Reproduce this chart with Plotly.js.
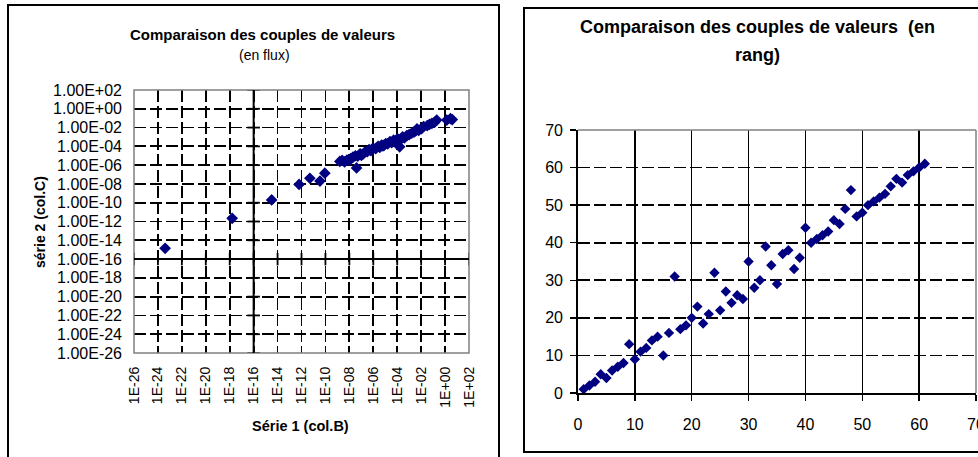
<!DOCTYPE html>
<html>
<head>
<meta charset="utf-8">
<script src="https://cdn.plot.ly/plotly-3.0.1.min.js"></script>
<style>
  html, body { margin: 0; padding: 0; background: #fff; }
  #chart { width: 978px; height: 457px; }
</style>
</head>
<body>
<div id="chart"></div>
<script>
// ---------- DATA ----------
// Left chart: "en flux" (raw values, log-log)
const flowSerie1 = [
  4.0e-24, 1.6e-18, 3.2e-15, 6.3e-13, 5.0e-12, 3.5e-11, 8.9e-11,
  1.6e-9, 2.5e-9, 4.0e-9, 6.3e-9, 1.0e-8, 1.3e-8, 4.0e-8, 2.0e-8, 3.2e-8, 5.0e-8,
  7.9e-8, 1.0e-7, 1.3e-7, 2.0e-7, 3.2e-7, 4.5e-7, 6.3e-7, 7.9e-7, 1.0e-6, 1.6e-6,
  2.5e-6, 3.5e-6, 5.0e-6, 6.3e-6, 7.9e-6, 1.1e-5, 1.6e-5, 2.5e-5, 3.5e-5, 5.0e-5,
  7.1e-5, 8.9e-5, 1.1e-4, 1.6e-4, 2.0e-4, 2.8e-4, 4.0e-4, 6.3e-4, 1.0e-3, 1.6e-3,
  2.5e-3, 3.5e-3, 4.5e-3, 6.3e-3, 1.1e-2, 1.6e-2, 3.2e-2, 5.0e-2, 7.9e-2, 1.3e-1,
  2.0e-1, 1.4, 2.8, 4.0
];
const flowSerie2 = [
  1.4e-15, 2.2e-12, 2.0e-10, 8.9e-9, 4.0e-8, 2.0e-8, 1.4e-7,
  2.5e-6, 3.2e-6, 2.2e-6, 3.5e-6, 3.2e-6, 5.0e-6, 5.0e-7, 7.1e-6, 1.0e-5, 8.9e-6,
  1.6e-5, 1.1e-5, 1.4e-5, 2.5e-5, 2.8e-5, 4.5e-5, 3.5e-5, 5.0e-5, 6.3e-5, 5.6e-5,
  1.0e-4, 7.9e-5, 1.4e-4, 1.1e-4, 1.3e-4, 2.0e-4, 1.8e-4, 3.2e-4, 2.5e-4, 4.5e-4,
  3.5e-4, 5.0e-4, 6.3e-4, 8.9e-5, 5.6e-4, 1.0e-3, 7.9e-4, 1.4e-3, 1.8e-3, 2.5e-3,
  3.2e-3, 4.5e-3, 7.1e-3, 5.0e-3, 7.9e-3, 1.3e-2, 1.6e-2, 2.2e-2, 2.8e-2, 3.5e-2,
  6.3e-2, 6.3e-2, 8.9e-2, 7.1e-2
];
const logTickVals = [1e-26, 1e-24, 1e-22, 1e-20, 1e-18, 1e-16, 1e-14, 1e-12,
                     1e-10, 1e-8, 1e-6, 1e-4, 1e-2, 1e0, 1e2];
const xLogTickText = ["1E-26","1E-24","1E-22","1E-20","1E-18","1E-16","1E-14","1E-12",
                      "1E-10","1E-08","1E-06","1E-04","1E-02","1E+00","1E+02"];
const yLogTickText = ["1.00E-26","1.00E-24","1.00E-22","1.00E-20","1.00E-18","1.00E-16",
                      "1.00E-14","1.00E-12","1.00E-10","1.00E-08","1.00E-06","1.00E-04",
                      "1.00E-02","1.00E+00","1.00E+02"];
const axisCross = 1e-16;   // where the left chart's axes cross

// Right chart: "en rang" (ranks)
const rankSerie1 = [1,2,3,4,5,6,7,8,9,10,11,12,13,14,15,16,17,18,19,20,
  21,22,23,24,25,26,27,28,29,30,31,32,33,34,35,36,37,38,39,40,
  41,42,43,44,45,46,47,48,49,50,51,52,53,54,55,56,57,58,59,60,61];
const rankSerie2 = [1,2,3,5,4,6,7,8,13,9,11,12,14,15,10,16,31,17,18,20,
  23,18.5,21,32,22,27,24,26,25,35,28,30,39,34,29,37,38,33,36,44,
  40,41,42,43,46,45,49,54,47,48,50,51,52,53,55,57,56,58,59,60,61];
const rankTicks = [0,10,20,30,40,50,60,70];

// ---------- LAYOUT HELPERS (pixel -> paper) ----------
const W = 978, H = 457;
const px = v => v / W;
const py = v => 1 - v / H;

const FONT = 'Arial, "Liberation Sans", sans-serif';
const navy = '#000080';

const traces = [
  {
    type: 'scatter', mode: 'markers', x: flowSerie1, y: flowSerie2,
    xaxis: 'x', yaxis: 'y',
    marker: { symbol: 'diamond', size: 9, color: navy },
    hoverinfo: 'x+y', showlegend: false
  },
  // tick marks on the crossing axes (left chart)
  {
    type: 'scatter', mode: 'markers',
    x: logTickVals.map(() => axisCross), y: logTickVals,
    xaxis: 'x', yaxis: 'y',
    marker: { symbol: 'line-ew-open', size: 9, color: '#000', line: { color: '#000', width: 1.8 } },
    hoverinfo: 'skip', showlegend: false
  },
  {
    type: 'scatter', mode: 'markers',
    x: logTickVals, y: logTickVals.map(() => axisCross),
    xaxis: 'x', yaxis: 'y',
    marker: { symbol: 'line-ns-open', size: 9, color: '#000', line: { color: '#000', width: 1.8 } },
    hoverinfo: 'skip', showlegend: false
  },
  {
    type: 'scatter', mode: 'markers', x: rankSerie1, y: rankSerie2,
    xaxis: 'x2', yaxis: 'y2',
    marker: { symbol: 'diamond', size: 8, color: navy },
    hoverinfo: 'x+y', showlegend: false
  }
];

const layout = {
  width: W, height: H,
  margin: { l: 0, r: 0, t: 0, b: 0 },
  paper_bgcolor: '#fff', plot_bgcolor: '#fff',
  font: { family: FONT, color: '#000' },
  showlegend: false,
  xaxis: {
    domain: [px(134), px(469)], anchor: 'y',
    type: 'log', range: [-26, 2],
    tickmode: 'array', tickvals: logTickVals, ticktext: xLogTickText,
    tickangle: -90, ticks: '', ticklabelstandoff: 10,
    tickfont: { family: FONT, size: 14, color: '#000' },
    showgrid: true, gridcolor: '#000', gridwidth: 1.8, griddash: '12px,4px',
    zeroline: false, showline: false, fixedrange: true
  },
  yaxis: {
    domain: [py(353), py(90)], anchor: 'x',
    type: 'log', range: [-26, 2],
    tickmode: 'array', tickvals: logTickVals, ticktext: yLogTickText,
    ticks: '', ticklabelstandoff: 11,
    tickfont: { family: FONT, size: 16, color: '#000' },
    showgrid: true, gridcolor: '#000', gridwidth: 1.8, griddash: '12px,4px',
    zeroline: false, showline: false, fixedrange: true
  },
  xaxis2: {
    domain: [px(578), px(976)], anchor: 'y2',
    range: [0, 70], tickmode: 'array', tickvals: rankTicks,
    ticks: 'outside', ticklen: 6, tickwidth: 1.5, tickcolor: '#000',
    ticklabelstandoff: 10, ticklabeloverflow: 'allow',
    tickfont: { family: FONT, size: 16, color: '#000' },
    showgrid: true, gridcolor: '#000', gridwidth: 1.3,
    zeroline: false, showline: true, linecolor: '#000', linewidth: 1.8,
    fixedrange: true
  },
  yaxis2: {
    domain: [py(393), py(130)], anchor: 'x2',
    range: [0, 70], tickmode: 'array', tickvals: rankTicks,
    ticks: 'outside', ticklen: 6, tickwidth: 1.5, tickcolor: '#000',
    ticklabelstandoff: 4,
    tickfont: { family: FONT, size: 16, color: '#000' },
    showgrid: true, gridcolor: '#000', gridwidth: 1.8, griddash: '12px,4px',
    zeroline: false, showline: true, linecolor: '#000', linewidth: 1.8,
    fixedrange: true
  },
  shapes: [
    // panel frames
    { type: 'rect', xref: 'paper', yref: 'paper', x0: px(8), x1: px(499), y0: -0.05, y1: py(5),
      line: { color: '#000', width: 2 }, fillcolor: 'rgba(0,0,0,0)', layer: 'below' },
    { type: 'rect', xref: 'paper', yref: 'paper', x0: px(524), x1: 1.05, y0: py(452), y1: py(8),
      line: { color: '#000', width: 2 }, fillcolor: 'rgba(0,0,0,0)', layer: 'below' },
    // left plot-area border (grey)
    { type: 'rect', xref: 'x domain', yref: 'y domain', x0: 0, x1: 1, y0: 0, y1: 1,
      line: { color: '#808080', width: 1.5 }, layer: 'above' },
    // left chart crossing axes at 1E-16
    { type: 'line', xref: 'x', yref: 'y domain', x0: axisCross, x1: axisCross, y0: 0, y1: 1,
      line: { color: '#000', width: 2 }, layer: 'above' },
    { type: 'line', xref: 'x domain', yref: 'y', x0: 0, x1: 1, y0: axisCross, y1: axisCross,
      line: { color: '#000', width: 2 }, layer: 'above' },
    // right plot-area border: grey top & right
    { type: 'line', xref: 'x2 domain', yref: 'y2 domain', x0: 0, x1: 1, y0: 1, y1: 1,
      line: { color: '#808080', width: 1.5 }, layer: 'above' },
    { type: 'line', xref: 'x2 domain', yref: 'y2 domain', x0: 1, x1: 1, y0: 0, y1: 1,
      line: { color: '#808080', width: 1.5 }, layer: 'above' }
  ],
  annotations: [
    { xref: 'paper', yref: 'paper', x: px(262), y: py(35), xanchor: 'center', yanchor: 'middle',
      showarrow: false, text: '<b>Comparaison des couples de valeurs</b>',
      font: { family: FONT, size: 15, color: '#000' } },
    { xref: 'paper', yref: 'paper', x: px(264), y: py(55), xanchor: 'center', yanchor: 'middle',
      showarrow: false, text: '(en flux)',
      font: { family: FONT, size: 14, color: '#000' } },
    { xref: 'paper', yref: 'paper', x: px(40), y: py(222), xanchor: 'center', yanchor: 'middle',
      showarrow: false, text: '<b>série 2 (col.C)</b>', textangle: -90,
      font: { family: FONT, size: 14, color: '#000' } },
    { xref: 'paper', yref: 'paper', x: px(300), y: py(426), xanchor: 'center', yanchor: 'middle',
      showarrow: false, text: '<b>Série 1 (col.B)</b>',
      font: { family: FONT, size: 14.5, color: '#000' } },
    { xref: 'paper', yref: 'paper', x: px(757), y: py(27), xanchor: 'center', yanchor: 'middle',
      showarrow: false, text: '<b>Comparaison des couples de valeurs  (en</b>',
      font: { family: FONT, size: 18, color: '#000' } },
    { xref: 'paper', yref: 'paper', x: px(757), y: py(55), xanchor: 'center', yanchor: 'middle',
      showarrow: false, text: '<b>rang)</b>',
      font: { family: FONT, size: 18, color: '#000' } }
  ]
};

Plotly.newPlot('chart', traces, layout, { displayModeBar: false, staticPlot: true });
</script>
</body>
</html>
